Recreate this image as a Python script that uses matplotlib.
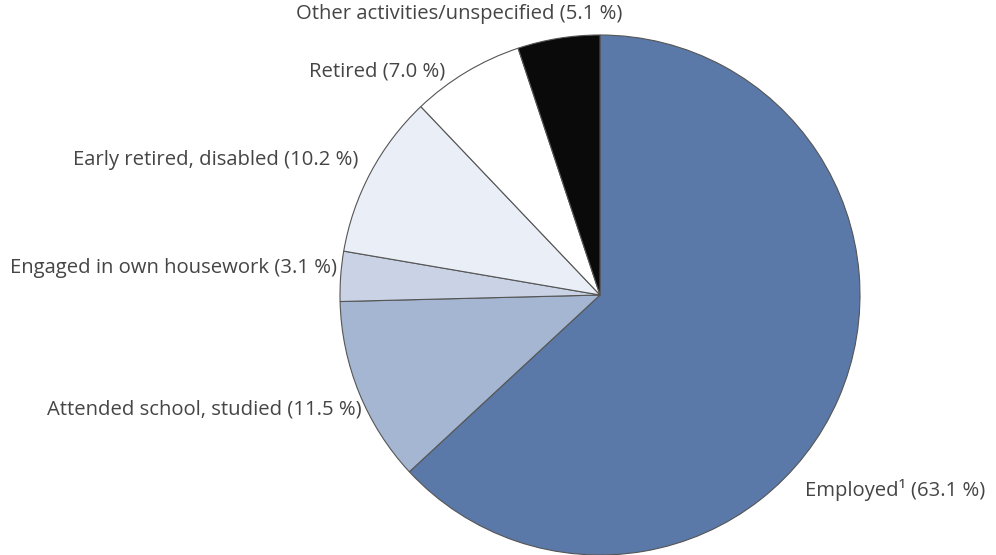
import matplotlib
matplotlib.use("Agg")
import matplotlib.pyplot as plt

categories = ["Employed\u00b9", "Attended school, studied", "Engaged in own housework",
              "Early retired, disabled", "Retired", "Other activities/unspecified"]
values = [63.1, 11.5, 3.1, 10.2, 7.0, 5.1]
colors = ["#5a79a9", "#a4b6d2", "#c9d3e5", "#eaeef6", "#ffffff", "#0a0a0a"]

W, H = 996, 555
fig = plt.figure(figsize=(W / 100, H / 100), dpi=100)
ax = fig.add_axes([0, 0, 1, 1])

cx, cy, r = 600, H - 295, 260
ax.pie(values, colors=colors, startangle=90, counterclock=False,
       center=(cx, cy), radius=r, frame=True,
       wedgeprops=dict(edgecolor="#555555", linewidth=0.8))
ax.set_xlim(0, W)
ax.set_ylim(0, H)
ax.set_aspect("equal")
ax.axis("off")

labels = [f"{c} ({v:.1f} %)" for c, v in zip(categories, values)]
# (x, y from top, ha)
pos = [(805, 490, "left"), (362, 409, "right"), (337, 268, "right"),
       (358, 160, "right"), (445, 72, "right"), (622, 14, "right")]
for lab, (x, y, ha) in zip(labels, pos):
    ax.text(x, H - y, lab, ha=ha, va="center", fontsize=14.6,
            family=["Open Sans", "DejaVu Sans"], color="#454545")

fig.savefig("out.png", dpi=100)
